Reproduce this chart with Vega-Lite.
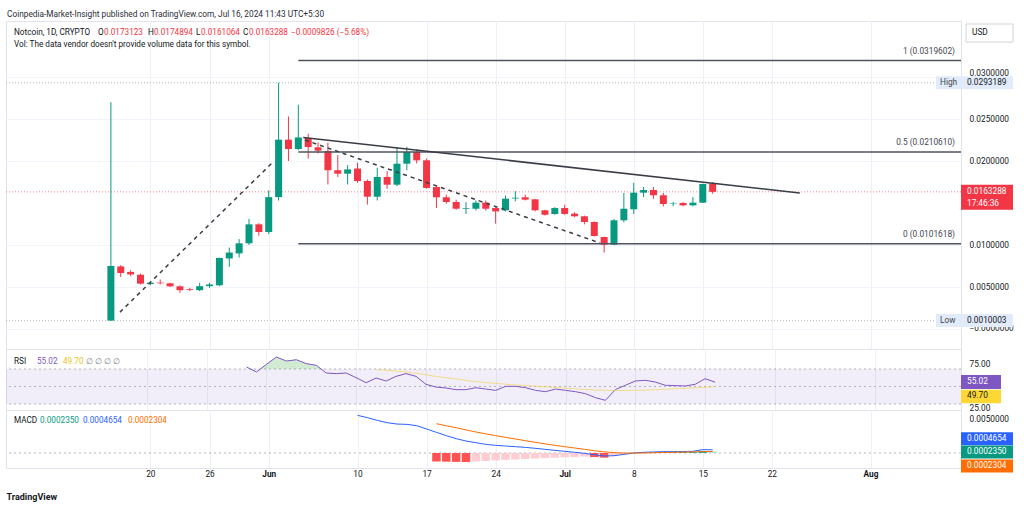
{
"$schema": "https://vega.github.io/schema/vega-lite/v6.json",
"background": "white",
"padding": {"left": 5, "top": 10, "right": 4, "bottom": 4},
"bounds": "flush",
"spacing": 0,
"title": {"text": "Coinpedia-Market-Insight published on TradingView.com, Jul 16, 2024 11:43 UTC+5:30", "anchor": "start", "fontSize": 8.3, "fontWeight": "normal", "color": "#2a2e39", "offset": 2, "dx": 2},
"config": {"font": "Roboto", "view": {"stroke": "#e0e3eb", "strokeWidth": 1}, "axis": {"labelFont": "Roboto", "labelFontSize": 8.3, "labelColor": "#131722", "domain": false, "ticks": false, "gridColor": "#eef0f5"}, "text": {"font": "Roboto"}},
"datasets": {
"candles": [
{"d":"2024-05-16","o":0.0010003,"h":0.0270,"l":0.0010003,"c":0.0075},
{"d":"2024-05-17","o":0.00745,"h":0.0076,"l":0.0062,"c":0.00667},
{"d":"2024-05-18","o":0.0068,"h":0.0070,"l":0.0063,"c":0.0065},
{"d":"2024-05-19","o":0.00646,"h":0.0066,"l":0.0053,"c":0.0054},
{"d":"2024-05-20","o":0.00536,"h":0.0056,"l":0.0052,"c":0.0055},
{"d":"2024-05-21","o":0.00552,"h":0.0059,"l":0.0053,"c":0.00544},
{"d":"2024-05-22","o":0.00544,"h":0.0055,"l":0.0050,"c":0.00508},
{"d":"2024-05-23","o":0.00508,"h":0.0052,"l":0.0043,"c":0.00462},
{"d":"2024-05-24","o":0.00475,"h":0.0049,"l":0.0045,"c":0.00466},
{"d":"2024-05-25","o":0.00462,"h":0.0055,"l":0.0045,"c":0.0051},
{"d":"2024-05-26","o":0.0051,"h":0.0055,"l":0.0049,"c":0.0053},
{"d":"2024-05-27","o":0.0052,"h":0.0085,"l":0.0051,"c":0.00845},
{"d":"2024-05-28","o":0.0084,"h":0.0097,"l":0.0074,"c":0.0091},
{"d":"2024-05-29","o":0.009,"h":0.0107,"l":0.0085,"c":0.0102},
{"d":"2024-05-30","o":0.0102,"h":0.0131,"l":0.0100,"c":0.01246},
{"d":"2024-05-31","o":0.01246,"h":0.0126,"l":0.0111,"c":0.01155},
{"d":"2024-06-01","o":0.01155,"h":0.0165,"l":0.0113,"c":0.0157},
{"d":"2024-06-02","o":0.0157,"h":0.0293189,"l":0.0153,"c":0.02254},
{"d":"2024-06-03","o":0.02254,"h":0.0253,"l":0.0200,"c":0.02143},
{"d":"2024-06-04","o":0.02143,"h":0.0267,"l":0.0213,"c":0.0228},
{"d":"2024-06-05","o":0.02274,"h":0.02325,"l":0.0203,"c":0.02167},
{"d":"2024-06-06","o":0.02163,"h":0.0222,"l":0.0209,"c":0.02123},
{"d":"2024-06-07","o":0.0212,"h":0.0222,"l":0.0172,"c":0.0189},
{"d":"2024-06-08","o":0.0189,"h":0.0207,"l":0.0181,"c":0.01849},
{"d":"2024-06-09","o":0.01849,"h":0.0195,"l":0.0172,"c":0.019},
{"d":"2024-06-10","o":0.0191,"h":0.0198,"l":0.0174,"c":0.01762},
{"d":"2024-06-11","o":0.01762,"h":0.0178,"l":0.0148,"c":0.01575},
{"d":"2024-06-12","o":0.01575,"h":0.0192,"l":0.0153,"c":0.0181},
{"d":"2024-06-13","o":0.0181,"h":0.0188,"l":0.0167,"c":0.01718},
{"d":"2024-06-14","o":0.01718,"h":0.02167,"l":0.017,"c":0.01968},
{"d":"2024-06-15","o":0.01968,"h":0.0217,"l":0.0189,"c":0.02107},
{"d":"2024-06-16","o":0.02107,"h":0.0214,"l":0.0197,"c":0.02008},
{"d":"2024-06-17","o":0.02008,"h":0.0203,"l":0.0167,"c":0.01679},
{"d":"2024-06-18","o":0.0169,"h":0.0171,"l":0.0144,"c":0.01568},
{"d":"2024-06-19","o":0.01568,"h":0.016,"l":0.0149,"c":0.01512},
{"d":"2024-06-20","o":0.01512,"h":0.0154,"l":0.0142,"c":0.01432},
{"d":"2024-06-21","o":0.0143,"h":0.0151,"l":0.0137,"c":0.01438},
{"d":"2024-06-22","o":0.01432,"h":0.0153,"l":0.0141,"c":0.01504},
{"d":"2024-06-23","o":0.01504,"h":0.0153,"l":0.0141,"c":0.01432},
{"d":"2024-06-24","o":0.0144,"h":0.0145,"l":0.01254,"c":0.014},
{"d":"2024-06-25","o":0.01413,"h":0.0159,"l":0.014,"c":0.01551},
{"d":"2024-06-26","o":0.01555,"h":0.0164,"l":0.0152,"c":0.01563},
{"d":"2024-06-27","o":0.01568,"h":0.016,"l":0.0153,"c":0.0154},
{"d":"2024-06-28","o":0.01544,"h":0.0155,"l":0.014,"c":0.01413},
{"d":"2024-06-29","o":0.01413,"h":0.0142,"l":0.0135,"c":0.0136},
{"d":"2024-06-30","o":0.01369,"h":0.0145,"l":0.0136,"c":0.0144},
{"d":"2024-07-01","o":0.0144,"h":0.0148,"l":0.0136,"c":0.0137},
{"d":"2024-07-02","o":0.01373,"h":0.0139,"l":0.0133,"c":0.01342},
{"d":"2024-07-03","o":0.01342,"h":0.0135,"l":0.01246,"c":0.01274},
{"d":"2024-07-04","o":0.01274,"h":0.0128,"l":0.011,"c":0.01107},
{"d":"2024-07-05","o":0.01095,"h":0.011,"l":0.00908,"c":0.01004},
{"d":"2024-07-06","o":0.01004,"h":0.0131,"l":0.01,"c":0.01294},
{"d":"2024-07-07","o":0.01294,"h":0.0162,"l":0.0127,"c":0.01432},
{"d":"2024-07-08","o":0.01425,"h":0.0174,"l":0.0137,"c":0.01623},
{"d":"2024-07-09","o":0.01623,"h":0.0169,"l":0.0157,"c":0.01655},
{"d":"2024-07-10","o":0.01655,"h":0.0169,"l":0.0155,"c":0.01592},
{"d":"2024-07-11","o":0.01592,"h":0.0162,"l":0.0146,"c":0.01488},
{"d":"2024-07-12","o":0.0149,"h":0.0151,"l":0.0146,"c":0.01496},
{"d":"2024-07-13","o":0.015,"h":0.0151,"l":0.0146,"c":0.01472},
{"d":"2024-07-14","o":0.01472,"h":0.0157,"l":0.0146,"c":0.01504},
{"d":"2024-07-15","o":0.01504,"h":0.0173,"l":0.015,"c":0.01726},
{"d":"2024-07-16","o":0.0173123,"h":0.0174894,"l":0.0161064,"c":0.0163288}
],
"levels": [{"k":"High","p":0.0293189},{"k":"Low","p":0.0010003},{"k":"Last","p":0.0163288,"t":"17:46:36"}],
"fib": [{"d":"2024-06-04","p":0.0319602,"label":"1 (0.0319602)"},{"d":"2024-06-04","p":0.021061,"label":"0.5 (0.0210610)"},{"d":"2024-06-04","p":0.0101618,"label":"0 (0.0101618)"}],
"trend": [{"d":"2024-06-04T12:00:00Z","p":0.0228,"d2":"2024-07-24T20:00:00Z","p2":0.01619}],
"dashed": [{"d":"2024-05-16T22:00:00Z","p":0.002,"d2":"2024-06-01T11:00:00Z","p2":0.0199},{"d":"2024-06-04T16:00:00Z","p":0.0225,"d2":"2024-07-04T14:00:00Z","p2":0.01024}],
"rsi": [
{"d":"2024-05-30","v":72.3},{"d":"2024-05-31","v":66.6},{"d":"2024-06-01","v":75.4},{"d":"2024-06-02","v":83.7},{"d":"2024-06-03","v":79.1},{"d":"2024-06-04","v":80.6},{"d":"2024-06-05","v":76.1},{"d":"2024-06-06","v":74.2},{"d":"2024-06-07","v":65.4},{"d":"2024-06-08","v":64.7},{"d":"2024-06-09","v":65.4},{"d":"2024-06-10","v":60.1},{"d":"2024-06-11","v":54.3},{"d":"2024-06-12","v":59.7},{"d":"2024-06-13","v":56.3},{"d":"2024-06-14","v":61.6},{"d":"2024-06-15","v":64.7},{"d":"2024-06-16","v":61.6},{"d":"2024-06-17","v":52.5},{"d":"2024-06-18","v":49.4},{"d":"2024-06-19","v":48.3},{"d":"2024-06-20","v":46.4},{"d":"2024-06-21","v":46.4},{"d":"2024-06-22","v":48.6},{"d":"2024-06-23","v":47.1},{"d":"2024-06-24","v":45.6},{"d":"2024-06-25","v":50.2},{"d":"2024-06-26","v":50.2},{"d":"2024-06-27","v":48.6},{"d":"2024-06-28","v":45.6},{"d":"2024-06-29","v":44.1},{"d":"2024-06-30","v":47.1},{"d":"2024-07-01","v":45.6},{"d":"2024-07-02","v":44.1},{"d":"2024-07-03","v":41.8},{"d":"2024-07-04","v":37.2},{"d":"2024-07-05","v":34.2},{"d":"2024-07-06","v":46.4},{"d":"2024-07-07","v":51.4},{"d":"2024-07-08","v":56.3},{"d":"2024-07-09","v":57.1},{"d":"2024-07-10","v":55.1},{"d":"2024-07-11","v":51.4},{"d":"2024-07-12","v":51.0},{"d":"2024-07-13","v":50.6},{"d":"2024-07-14","v":52.5},{"d":"2024-07-15","v":58.9},{"d":"2024-07-16","v":55.02}
],
"rsima": [
{"d":"2024-06-12","v":69.2},{"d":"2024-06-13","v":68.6},{"d":"2024-06-14","v":67.8},{"d":"2024-06-15","v":66.6},{"d":"2024-06-16","v":65.0},{"d":"2024-06-17","v":63.4},{"d":"2024-06-18","v":61.5},{"d":"2024-06-19","v":60.1},{"d":"2024-06-20","v":58.6},{"d":"2024-06-21","v":57.0},{"d":"2024-06-22","v":55.6},{"d":"2024-06-23","v":54.5},{"d":"2024-06-24","v":53.5},{"d":"2024-06-25","v":52.6},{"d":"2024-06-26","v":51.8},{"d":"2024-06-27","v":51.1},{"d":"2024-06-28","v":50.4},{"d":"2024-06-29","v":49.6},{"d":"2024-06-30","v":48.8},{"d":"2024-07-01","v":48.0},{"d":"2024-07-02","v":47.3},{"d":"2024-07-03","v":46.6},{"d":"2024-07-04","v":46.0},{"d":"2024-07-05","v":45.6},{"d":"2024-07-06","v":45.4},{"d":"2024-07-07","v":45.4},{"d":"2024-07-08","v":45.6},{"d":"2024-07-09","v":45.9},{"d":"2024-07-10","v":46.3},{"d":"2024-07-11","v":46.8},{"d":"2024-07-12","v":47.3},{"d":"2024-07-13","v":47.9},{"d":"2024-07-14","v":48.5},{"d":"2024-07-15","v":49.1},{"d":"2024-07-16","v":49.7}
],
"ob": [{"d":"2024-05-31T09:00:00Z","v":70},{"d":"2024-06-01","v":75.4},{"d":"2024-06-02","v":83.7},{"d":"2024-06-03","v":79.1},{"d":"2024-06-04","v":80.6},{"d":"2024-06-05","v":76.1},{"d":"2024-06-06","v":74.2},{"d":"2024-06-06T11:30:00Z","v":70}],
"rsilast": [{"k":"RSI","v":55.02},{"k":"MA","v":49.70}],
"macd": [
{"d":"2024-06-10","m":0.00554},{"d":"2024-06-11","m":0.0052},{"d":"2024-06-12","m":0.0048},{"d":"2024-06-13","m":0.00446},{"d":"2024-06-14","m":0.00426},{"d":"2024-06-15","m":0.00421},{"d":"2024-06-16","m":0.00402},{"d":"2024-06-17","m":0.00353},{"d":"2024-06-18","m":0.00304},{"d":"2024-06-19","m":0.00255},{"d":"2024-06-20","m":0.00211},{"d":"2024-06-21","m":0.00176},{"d":"2024-06-22","m":0.00152},{"d":"2024-06-23","m":0.00127},{"d":"2024-06-24","m":0.00113},{"d":"2024-06-25","m":0.00103},{"d":"2024-06-26","m":0.00093},{"d":"2024-06-27","m":0.00083},{"d":"2024-06-28","m":0.00069},{"d":"2024-06-29","m":0.00054},{"d":"2024-06-30","m":0.00039},{"d":"2024-07-01","m":0.00025},{"d":"2024-07-02","m":0.0001},{"d":"2024-07-03","m":-0.00005},{"d":"2024-07-04","m":-0.00025},{"d":"2024-07-05","m":-0.00044},{"d":"2024-07-06","m":-0.0004},{"d":"2024-07-07","m":-0.0002},{"d":"2024-07-08","m":0.0},{"d":"2024-07-09","m":0.0001},{"d":"2024-07-10","m":0.00015},{"d":"2024-07-11","m":0.0002},{"d":"2024-07-12","m":0.0002},{"d":"2024-07-13","m":0.00021},{"d":"2024-07-14","m":0.00025},{"d":"2024-07-15","m":0.0005},{"d":"2024-07-16","m":0.0004654}
],
"signal": [
{"d":"2024-06-18","s":0.00431},{"d":"2024-06-19","s":0.004},{"d":"2024-06-20","s":0.00372},{"d":"2024-06-21","s":0.0034},{"d":"2024-06-22","s":0.00309},{"d":"2024-06-23","s":0.00282},{"d":"2024-06-24","s":0.00255},{"d":"2024-06-25","s":0.0023},{"d":"2024-06-26","s":0.00206},{"d":"2024-06-27","s":0.00181},{"d":"2024-06-28","s":0.00157},{"d":"2024-06-29","s":0.00135},{"d":"2024-06-30","s":0.00113},{"d":"2024-07-01","s":0.00093},{"d":"2024-07-02","s":0.00074},{"d":"2024-07-03","s":0.00054},{"d":"2024-07-04","s":0.00034},{"d":"2024-07-05","s":0.00017},{"d":"2024-07-06","s":0.00005},{"d":"2024-07-07","s":0.0},{"d":"2024-07-08","s":-0.00002},{"d":"2024-07-09","s":0.0},{"d":"2024-07-10","s":0.00004},{"d":"2024-07-11","s":0.00008},{"d":"2024-07-12","s":0.00011},{"d":"2024-07-13","s":0.00014},{"d":"2024-07-14","s":0.00017},{"d":"2024-07-15","s":0.0002},{"d":"2024-07-16","s":0.0002304}
],
"hist": [
{"d":"2024-06-18","h":-0.00125,"state":"fallneg"},{"d":"2024-06-19","h":-0.00128,"state":"fallneg"},{"d":"2024-06-20","h":-0.00131,"state":"fallneg"},{"d":"2024-06-21","h":-0.00133,"state":"fallneg"},{"d":"2024-06-22","h":-0.00125,"state":"riseneg"},{"d":"2024-06-23","h":-0.00118,"state":"riseneg"},{"d":"2024-06-24","h":-0.0011,"state":"riseneg"},{"d":"2024-06-25","h":-0.00102,"state":"riseneg"},{"d":"2024-06-26","h":-0.00095,"state":"riseneg"},{"d":"2024-06-27","h":-0.00088,"state":"riseneg"},{"d":"2024-06-28","h":-0.00082,"state":"riseneg"},{"d":"2024-06-29","h":-0.00076,"state":"riseneg"},{"d":"2024-06-30","h":-0.0007,"state":"riseneg"},{"d":"2024-07-01","h":-0.00064,"state":"riseneg"},{"d":"2024-07-02","h":-0.00058,"state":"riseneg"},{"d":"2024-07-03","h":-0.00052,"state":"riseneg"},{"d":"2024-07-04","h":-0.0006,"state":"fallneg"},{"d":"2024-07-05","h":-0.00068,"state":"fallneg"},{"d":"2024-07-06","h":-0.00045,"state":"riseneg"},{"d":"2024-07-07","h":-0.0002,"state":"riseneg"},{"d":"2024-07-08","h":0.00003,"state":"risepos"},{"d":"2024-07-09","h":0.00009,"state":"risepos"},{"d":"2024-07-10","h":0.00011,"state":"risepos"},{"d":"2024-07-11","h":0.00012,"state":"risepos"},{"d":"2024-07-12","h":0.00012,"state":"risepos"},{"d":"2024-07-13","h":0.00012,"state":"risepos"},{"d":"2024-07-14","h":0.00013,"state":"risepos"},{"d":"2024-07-15","h":0.0003,"state":"risepos"},{"d":"2024-07-16","h":0.000235,"state":"fallpos"}
],
"macdlast": [{"k":"MACD","v":0.0004654},{"k":"Hist","v":0.000235},{"k":"Signal","v":0.0002304}]
},
"vconcat": [
{
"width": 955, "height": 328,
"layer": [
{"data": {"name": "levels"}, "transform": [{"filter": "datum.k !== 'Last'"}],
 "mark": {"type": "rule", "stroke": "#9598a1", "strokeDash": [1, 2], "strokeWidth": 1, "opacity": 0.7},
 "encoding": {"y": {"field": "p", "type": "quantitative", "scale": {"domain": [-0.002381, 0.036667], "nice": false, "zero": false},
   "axis": {"orient": "right", "values": [0, 0.005, 0.01, 0.02, 0.025, 0.03], "labelExpr": "datum.value === 0 ? '−0.0000000' : format(datum.value, '.7f')", "labelBaseline": {"condition": {"test": "datum.value > 0.029", "value": "bottom"}, "value": "middle"}, "labelPadding": 8, "grid": true, "gridColor": "#f0f3fa", "title": null}}}},
{"data": {"name": "levels"}, "transform": [{"filter": "datum.k === 'Last'"}],
 "mark": {"type": "rule", "stroke": "#f23645", "strokeDash": [1, 2], "strokeWidth": 1, "opacity": 0.6},
 "encoding": {"y": {"field": "p", "type": "quantitative", "scale": {"domain": [-0.002381, 0.036667], "nice": false, "zero": false}}}},
{"data": {"name": "candles"}, "mark": {"type": "rule", "strokeWidth": 1},
 "encoding": {
  "x": {"field": "d", "type": "temporal", "scale": {"type": "utc", "domain": [1714942800000, 1723219200000], "nice": false},
   "axis": {"values": [{"year":2024,"month":5,"date":20,"utc":true},{"year":2024,"month":5,"date":26,"utc":true},{"year":2024,"month":6,"date":1,"utc":true},{"year":2024,"month":6,"date":10,"utc":true},{"year":2024,"month":6,"date":17,"utc":true},{"year":2024,"month":6,"date":24,"utc":true},{"year":2024,"month":7,"date":1,"utc":true},{"year":2024,"month":7,"date":8,"utc":true},{"year":2024,"month":7,"date":15,"utc":true},{"year":2024,"month":7,"date":22,"utc":true},{"year":2024,"month":8,"date":1,"utc":true}], "labels": false, "grid": true, "title": null}},
  "y": {"field": "l", "type": "quantitative", "scale": {"domain": [-0.002381, 0.036667], "nice": false, "zero": false}},
  "y2": {"field": "h"},
  "color": {"condition": {"test": "datum.c >= datum.o", "value": "#089981"}, "value": "#f23645"}}},
{"data": {"name": "candles"}, "mark": {"type": "bar", "width": 7},
 "encoding": {
  "x": {"field": "d", "type": "temporal", "scale": {"type": "utc", "domain": [1714942800000, 1723219200000], "nice": false}},
  "y": {"field": "o", "type": "quantitative", "scale": {"domain": [-0.002381, 0.036667], "nice": false, "zero": false}},
  "y2": {"field": "c"},
  "color": {"condition": {"test": "datum.c >= datum.o", "value": "#089981"}, "value": "#f23645"}}},
{"data": {"name": "fib"}, "mark": {"type": "rule", "stroke": "#50535e", "strokeWidth": 1.5},
 "encoding": {
  "x": {"field": "d", "type": "temporal", "scale": {"type": "utc", "domain": [1714942800000, 1723219200000], "nice": false}},
  "x2": {"value": "width"},
  "y": {"field": "p", "type": "quantitative", "scale": {"domain": [-0.002381, 0.036667], "nice": false, "zero": false}}}},
{"data": {"name": "trend"}, "mark": {"type": "rule", "stroke": "#3a3d47", "strokeWidth": 1.5},
 "encoding": {
  "x": {"field": "d", "type": "temporal", "scale": {"type": "utc", "domain": [1714942800000, 1723219200000], "nice": false}},
  "x2": {"field": "d2"},
  "y": {"field": "p", "type": "quantitative", "scale": {"domain": [-0.002381, 0.036667], "nice": false, "zero": false}},
  "y2": {"field": "p2"}}},
{"data": {"name": "dashed"}, "mark": {"type": "rule", "stroke": "#3a3d47", "strokeWidth": 1.5, "strokeDash": [4, 4]},
 "encoding": {
  "x": {"field": "d", "type": "temporal", "scale": {"type": "utc", "domain": [1714942800000, 1723219200000], "nice": false}},
  "x2": {"field": "d2"},
  "y": {"field": "p", "type": "quantitative", "scale": {"domain": [-0.002381, 0.036667], "nice": false, "zero": false}},
  "y2": {"field": "p2"}}},
{"data": {"name": "fib"}, "mark": {"type": "text", "align": "right", "baseline": "middle", "dx": -6, "dy": -9, "fontSize": 8.3, "color": "#434651"},
 "encoding": {"x": {"value": "width"}, "y": {"field": "p", "type": "quantitative", "scale": {"domain": [-0.002381, 0.036667], "nice": false, "zero": false}}, "text": {"field": "label"}}},
{"data": {"values": [{"t": "Notcoin, 1D, CRYPTO"}]}, "mark": {"type": "text", "align": "left", "baseline": "middle", "dx": 8, "dy": 12, "fontSize": 8.2, "color": "#131722"}, "encoding": {"x": {"value": 0}, "y": {"value": 0}, "text": {"field": "t"}}},
{"data": {"values": [{"t": "O"}]}, "mark": {"type": "text", "align": "left", "baseline": "middle", "dx": 92, "dy": 12, "fontSize": 8.2, "color": "#131722"}, "encoding": {"x": {"value": 0}, "y": {"value": 0}, "text": {"field": "t"}}},
{"data": {"values": [{"t": "0.0173123"}]}, "mark": {"type": "text", "align": "left", "baseline": "middle", "dx": 98, "dy": 12, "fontSize": 8.2, "color": "#f23645"}, "encoding": {"x": {"value": 0}, "y": {"value": 0}, "text": {"field": "t"}}},
{"data": {"values": [{"t": "H"}]}, "mark": {"type": "text", "align": "left", "baseline": "middle", "dx": 142, "dy": 12, "fontSize": 8.2, "color": "#131722"}, "encoding": {"x": {"value": 0}, "y": {"value": 0}, "text": {"field": "t"}}},
{"data": {"values": [{"t": "0.0174894"}]}, "mark": {"type": "text", "align": "left", "baseline": "middle", "dx": 148, "dy": 12, "fontSize": 8.2, "color": "#f23645"}, "encoding": {"x": {"value": 0}, "y": {"value": 0}, "text": {"field": "t"}}},
{"data": {"values": [{"t": "L"}]}, "mark": {"type": "text", "align": "left", "baseline": "middle", "dx": 190, "dy": 12, "fontSize": 8.2, "color": "#131722"}, "encoding": {"x": {"value": 0}, "y": {"value": 0}, "text": {"field": "t"}}},
{"data": {"values": [{"t": "0.0161064"}]}, "mark": {"type": "text", "align": "left", "baseline": "middle", "dx": 195, "dy": 12, "fontSize": 8.2, "color": "#f23645"}, "encoding": {"x": {"value": 0}, "y": {"value": 0}, "text": {"field": "t"}}},
{"data": {"values": [{"t": "C"}]}, "mark": {"type": "text", "align": "left", "baseline": "middle", "dx": 237, "dy": 12, "fontSize": 8.2, "color": "#131722"}, "encoding": {"x": {"value": 0}, "y": {"value": 0}, "text": {"field": "t"}}},
{"data": {"values": [{"t": "0.0163288"}]}, "mark": {"type": "text", "align": "left", "baseline": "middle", "dx": 243, "dy": 12, "fontSize": 8.2, "color": "#f23645"}, "encoding": {"x": {"value": 0}, "y": {"value": 0}, "text": {"field": "t"}}},
{"data": {"values": [{"t": "−0.0009826 (−5.68%)"}]}, "mark": {"type": "text", "align": "left", "baseline": "middle", "dx": 285, "dy": 12, "fontSize": 8.2, "color": "#f23645"}, "encoding": {"x": {"value": 0}, "y": {"value": 0}, "text": {"field": "t"}}},
{"data": {"values": [{"t": "Vol: The data vendor doesn't provide volume data for this symbol."}]}, "mark": {"type": "text", "align": "left", "baseline": "middle", "dx": 8, "dy": 24, "fontSize": 8.2, "color": "#131722"}, "encoding": {"x": {"value": 0}, "y": {"value": 0}, "text": {"field": "t"}}},
{"data": {"name": "levels"}, "transform": [{"filter": "datum.k !== 'Last'"}],
 "mark": {"type": "point", "shape": "M-0.5,-0.13L1.04,-0.13L1.04,0.13L-0.5,0.13Z", "size": 10000, "filled": true, "fill": "#e2ebf9", "opacity": 1, "strokeWidth": 0},
 "encoding": {"x": {"value": "width"}, "y": {"field": "p", "type": "quantitative", "scale": {"domain": [-0.002381, 0.036667], "nice": false, "zero": false}}}},
{"data": {"name": "levels"}, "transform": [{"filter": "datum.k === 'Last'"}],
 "mark": {"type": "point", "shape": "M0,-0.14L1.04,-0.14L1.04,0.36L0,0.36Z", "size": 10000, "filled": true, "fill": "#f23645", "opacity": 1, "strokeWidth": 0},
 "encoding": {"x": {"value": "width"}, "y": {"field": "p", "type": "quantitative", "scale": {"domain": [-0.002381, 0.036667], "nice": false, "zero": false}}}},
{"data": {"values": [{"t": "USD"}]},
 "mark": {"type": "point", "shape": "M0.1,0.06L1.04,0.06L1.04,0.42L0.1,0.42Z", "size": 10000, "filled": true, "fill": "white", "stroke": "#d1d4dc", "strokeWidth": 1, "opacity": 1},
 "encoding": {"x": {"value": "width"}, "y": {"value": 0}}},
{"data": {"values": [{"t": "USD"}]}, "mark": {"type": "text", "align": "left", "baseline": "middle", "dx": 11, "dy": 12, "fontSize": 8.3, "color": "#131722"}, "encoding": {"x": {"value": "width"}, "y": {"value": 0}, "text": {"field": "t"}}},
{"data": {"name": "levels"}, "transform": [{"filter": "datum.k !== 'Last'"}],
 "mark": {"type": "text", "align": "left", "baseline": "middle", "dx": -21, "fontSize": 8.3, "color": "#434651"},
 "encoding": {"x": {"value": "width"}, "y": {"field": "p", "type": "quantitative", "scale": {"domain": [-0.002381, 0.036667], "nice": false, "zero": false}}, "text": {"field": "k"}}},
{"data": {"name": "levels"}, "transform": [{"filter": "datum.k !== 'Last'"}],
 "mark": {"type": "text", "align": "left", "baseline": "middle", "dx": 6, "fontSize": 8.3, "color": "#131722"},
 "encoding": {"x": {"value": "width"}, "y": {"field": "p", "type": "quantitative", "scale": {"domain": [-0.002381, 0.036667], "nice": false, "zero": false}}, "text": {"field": "p", "format": ".7f"}}},
{"data": {"name": "levels"}, "transform": [{"filter": "datum.k === 'Last'"}],
 "mark": {"type": "text", "align": "left", "baseline": "middle", "dx": 6, "fontSize": 8.3, "color": "white"},
 "encoding": {"x": {"value": "width"}, "y": {"field": "p", "type": "quantitative", "scale": {"domain": [-0.002381, 0.036667], "nice": false, "zero": false}}, "text": {"field": "p", "format": ".7f"}}},
{"data": {"name": "levels"}, "transform": [{"filter": "datum.k === 'Last'"}],
 "mark": {"type": "text", "align": "left", "baseline": "middle", "dx": 6, "dy": 12, "fontSize": 8.3, "color": "white"},
 "encoding": {"x": {"value": "width"}, "y": {"field": "p", "type": "quantitative", "scale": {"domain": [-0.002381, 0.036667], "nice": false, "zero": false}}, "text": {"field": "t"}}}
]
},
{
"width": 955, "height": 61,
"layer": [
{"data": {"values": [{"lo": 30, "hi": 70}]}, "mark": {"type": "rect", "color": "#7e57c2", "opacity": 0.1},
 "encoding": {"x": {"value": 0}, "x2": {"value": "width"},
  "y": {"field": "hi", "type": "quantitative", "scale": {"domain": [23.14, 92.86], "nice": false, "zero": false}, "axis": {"orient": "right", "values": [25, 75], "format": ".2f", "labelPadding": 8, "grid": false, "title": null}},
  "y2": {"field": "lo"}}},
{"data": {"values": [{"v": 70}, {"v": 50}, {"v": 30}]}, "mark": {"type": "rule", "stroke": "#9598a1", "strokeDash": [2, 3], "strokeWidth": 1, "opacity": 0.7},
 "encoding": {"y": {"field": "v", "type": "quantitative", "scale": {"domain": [23.14, 92.86], "nice": false, "zero": false}}}},
{"data": {"name": "ob"}, "mark": {"type": "area", "color": "#4caf50", "opacity": 0.25},
 "encoding": {
  "x": {"field": "d", "type": "temporal", "scale": {"type": "utc", "domain": [1714942800000, 1723219200000], "nice": false}},
  "y": {"field": "v", "type": "quantitative", "scale": {"domain": [23.14, 92.86], "nice": false, "zero": false}},
  "y2": {"datum": 70}}},
{"data": {"name": "rsi"}, "mark": {"type": "line", "color": "#7e57c2", "strokeWidth": 1},
 "encoding": {
  "x": {"field": "d", "type": "temporal", "scale": {"type": "utc", "domain": [1714942800000, 1723219200000], "nice": false},
   "axis": {"values": [{"year":2024,"month":5,"date":20,"utc":true},{"year":2024,"month":5,"date":26,"utc":true},{"year":2024,"month":6,"date":1,"utc":true},{"year":2024,"month":6,"date":10,"utc":true},{"year":2024,"month":6,"date":17,"utc":true},{"year":2024,"month":6,"date":24,"utc":true},{"year":2024,"month":7,"date":1,"utc":true},{"year":2024,"month":7,"date":8,"utc":true},{"year":2024,"month":7,"date":15,"utc":true},{"year":2024,"month":7,"date":22,"utc":true},{"year":2024,"month":8,"date":1,"utc":true}], "labels": false, "grid": true, "title": null}},
  "y": {"field": "v", "type": "quantitative", "scale": {"domain": [23.14, 92.86], "nice": false, "zero": false}}}},
{"data": {"name": "rsima"}, "mark": {"type": "line", "color": "#f4d03f", "strokeWidth": 1, "opacity": 0.6},
 "encoding": {
  "x": {"field": "d", "type": "temporal", "scale": {"type": "utc", "domain": [1714942800000, 1723219200000], "nice": false}},
  "y": {"field": "v", "type": "quantitative", "scale": {"domain": [23.14, 92.86], "nice": false, "zero": false}}}},
{"data": {"values": [{"t": "RSI"}]}, "mark": {"type": "text", "align": "left", "baseline": "middle", "dx": 8, "dy": 12.5, "fontSize": 8.2, "color": "#131722"}, "encoding": {"x": {"value": 0}, "y": {"value": 0}, "text": {"field": "t"}}},
{"data": {"values": [{"t": "55.02"}]}, "mark": {"type": "text", "align": "left", "baseline": "middle", "dx": 31, "dy": 12.5, "fontSize": 8.2, "color": "#7e57c2"}, "encoding": {"x": {"value": 0}, "y": {"value": 0}, "text": {"field": "t"}}},
{"data": {"values": [{"t": "49.70"}]}, "mark": {"type": "text", "align": "left", "baseline": "middle", "dx": 57, "dy": 12.5, "fontSize": 8.2, "color": "#e6c619"}, "encoding": {"x": {"value": 0}, "y": {"value": 0}, "text": {"field": "t"}}},
{"data": {"values": [{"t": "∅ ∅ ∅ ∅"}]}, "mark": {"type": "text", "align": "left", "baseline": "middle", "dx": 80, "dy": 12.5, "fontSize": 8.2, "color": "#787b86"}, "encoding": {"x": {"value": 0}, "y": {"value": 0}, "text": {"field": "t"}}},
{"data": {"name": "rsilast"}, "transform": [{"filter": "datum.k === 'RSI'"}],
 "mark": {"type": "point", "shape": "M0,-0.14L0.8,-0.14L0.8,0.14L0,0.14Z", "size": 10000, "filled": true, "fill": "#7e57c2", "opacity": 1, "strokeWidth": 0},
 "encoding": {"x": {"value": "width"}, "y": {"field": "v", "type": "quantitative", "scale": {"domain": [23.14, 92.86], "nice": false, "zero": false}}}},
{"data": {"name": "rsilast"}, "transform": [{"filter": "datum.k === 'MA'"}],
 "mark": {"type": "point", "shape": "M0,0.06L0.8,0.06L0.8,0.33L0,0.33Z", "size": 10000, "filled": true, "fill": "#fdd835", "opacity": 1, "strokeWidth": 0},
 "encoding": {"x": {"value": "width"}, "y": {"field": "v", "type": "quantitative", "scale": {"domain": [23.14, 92.86], "nice": false, "zero": false}}}},
{"data": {"name": "rsilast"}, "transform": [{"filter": "datum.k === 'RSI'"}],
 "mark": {"type": "text", "align": "left", "baseline": "middle", "dx": 6, "fontSize": 8.3, "color": "white"},
 "encoding": {"x": {"value": "width"}, "y": {"field": "v", "type": "quantitative", "scale": {"domain": [23.14, 92.86], "nice": false, "zero": false}}, "text": {"field": "v", "format": ".2f"}}},
{"data": {"name": "rsilast"}, "transform": [{"filter": "datum.k === 'MA'"}],
 "mark": {"type": "text", "align": "left", "baseline": "middle", "dx": 6, "dy": 9.7, "fontSize": 8.3, "color": "#131722"},
 "encoding": {"x": {"value": "width"}, "y": {"field": "v", "type": "quantitative", "scale": {"domain": [23.14, 92.86], "nice": false, "zero": false}}, "text": {"field": "v", "format": ".2f"}}}
]
},
{
"width": 955, "height": 58,
"layer": [
{"data": {"values": [{"v": 0}]}, "mark": {"type": "rule", "stroke": "#9598a1", "strokeDash": [2, 3], "strokeWidth": 1, "opacity": 0.7},
 "encoding": {"y": {"field": "v", "type": "quantitative", "scale": {"domain": [-0.002206, 0.006324], "nice": false, "zero": false}, "axis": {"orient": "right", "values": [0.005], "format": ".7f", "labelPadding": 8, "grid": false, "title": null}}}},
{"data": {"name": "hist"}, "mark": {"type": "bar", "width": 8.5},
 "encoding": {
  "x": {"field": "d", "type": "temporal", "scale": {"type": "utc", "domain": [1714942800000, 1723219200000], "nice": false},
   "axis": {"values": [{"year":2024,"month":5,"date":20,"utc":true},{"year":2024,"month":5,"date":26,"utc":true},{"year":2024,"month":6,"date":1,"utc":true},{"year":2024,"month":6,"date":10,"utc":true},{"year":2024,"month":6,"date":17,"utc":true},{"year":2024,"month":6,"date":24,"utc":true},{"year":2024,"month":7,"date":1,"utc":true},{"year":2024,"month":7,"date":8,"utc":true},{"year":2024,"month":7,"date":15,"utc":true},{"year":2024,"month":7,"date":22,"utc":true},{"year":2024,"month":8,"date":1,"utc":true}],
    "labelExpr": "utcdate(datum.value) === 1 ? utcFormat(datum.value, '%b') : utcFormat(datum.value, '%-d')",
    "labelFontWeight": {"condition": {"test": "utcdate(datum.value) === 1", "value": "bold"}, "value": "normal"},
    "labelPadding": 1, "labelFlush": false, "grid": true,
    "title": "TradingView", "titleAnchor": "start", "titleAlign": "left", "titleFontSize": 9, "titleFontWeight": "bold", "titleColor": "#131722", "titlePadding": 15}},
  "y": {"field": "h", "type": "quantitative", "scale": {"domain": [-0.002206, 0.006324], "nice": false, "zero": false}},
  "y2": {"datum": 0},
  "color": {"field": "state", "type": "nominal", "scale": {"domain": ["fallneg", "riseneg", "risepos", "fallpos"], "range": ["#ff5252", "#ffcdd2", "#26a69a", "#b2dfdb"]}, "legend": null}}},
{"data": {"name": "macd"}, "mark": {"type": "line", "color": "#2962ff", "strokeWidth": 1},
 "encoding": {
  "x": {"field": "d", "type": "temporal", "scale": {"type": "utc", "domain": [1714942800000, 1723219200000], "nice": false}},
  "y": {"field": "m", "type": "quantitative", "scale": {"domain": [-0.002206, 0.006324], "nice": false, "zero": false}}}},
{"data": {"name": "signal"}, "mark": {"type": "line", "color": "#ff6d00", "strokeWidth": 1},
 "encoding": {
  "x": {"field": "d", "type": "temporal", "scale": {"type": "utc", "domain": [1714942800000, 1723219200000], "nice": false}},
  "y": {"field": "s", "type": "quantitative", "scale": {"domain": [-0.002206, 0.006324], "nice": false, "zero": false}}}},
{"data": {"values": [{"t": "MACD"}]}, "mark": {"type": "text", "align": "left", "baseline": "middle", "dx": 8, "dy": 11, "fontSize": 8.2, "color": "#131722"}, "encoding": {"x": {"value": 0}, "y": {"value": 0}, "text": {"field": "t"}}},
{"data": {"values": [{"t": "0.0002350"}]}, "mark": {"type": "text", "align": "left", "baseline": "middle", "dx": 34, "dy": 11, "fontSize": 8.2, "color": "#089981"}, "encoding": {"x": {"value": 0}, "y": {"value": 0}, "text": {"field": "t"}}},
{"data": {"values": [{"t": "0.0004654"}]}, "mark": {"type": "text", "align": "left", "baseline": "middle", "dx": 77, "dy": 11, "fontSize": 8.2, "color": "#2962ff"}, "encoding": {"x": {"value": 0}, "y": {"value": 0}, "text": {"field": "t"}}},
{"data": {"values": [{"t": "0.0002304"}]}, "mark": {"type": "text", "align": "left", "baseline": "middle", "dx": 122, "dy": 11, "fontSize": 8.2, "color": "#ff6d00"}, "encoding": {"x": {"value": 0}, "y": {"value": 0}, "text": {"field": "t"}}},
{"data": {"name": "macdlast"}, "transform": [{"filter": "datum.k === 'MACD'"}],
 "mark": {"type": "point", "shape": "M0,-0.35L1.04,-0.35L1.04,-0.09L0,-0.09Z", "size": 10000, "filled": true, "fill": "#2962ff", "opacity": 1, "strokeWidth": 0},
 "encoding": {"x": {"value": "width"}, "y": {"field": "v", "type": "quantitative", "scale": {"domain": [-0.002206, 0.006324], "nice": false, "zero": false}}}},
{"data": {"name": "macdlast"}, "transform": [{"filter": "datum.k === 'Hist'"}],
 "mark": {"type": "point", "shape": "M0,-0.12L1.04,-0.12L1.04,0.14L0,0.14Z", "size": 10000, "filled": true, "fill": "#089981", "opacity": 1, "strokeWidth": 0},
 "encoding": {"x": {"value": "width"}, "y": {"field": "v", "type": "quantitative", "scale": {"domain": [-0.002206, 0.006324], "nice": false, "zero": false}}}},
{"data": {"name": "macdlast"}, "transform": [{"filter": "datum.k === 'Signal'"}],
 "mark": {"type": "point", "shape": "M0,0.16L1.04,0.16L1.04,0.42L0,0.42Z", "size": 10000, "filled": true, "fill": "#ff6d00", "opacity": 1, "strokeWidth": 0},
 "encoding": {"x": {"value": "width"}, "y": {"field": "v", "type": "quantitative", "scale": {"domain": [-0.002206, 0.006324], "nice": false, "zero": false}}}},
{"data": {"name": "macdlast"}, "transform": [{"filter": "datum.k === 'MACD'"}],
 "mark": {"type": "text", "align": "left", "baseline": "middle", "dx": 6, "dy": -11, "fontSize": 8.3, "color": "white"},
 "encoding": {"x": {"value": "width"}, "y": {"field": "v", "type": "quantitative", "scale": {"domain": [-0.002206, 0.006324], "nice": false, "zero": false}}, "text": {"field": "v", "format": ".7f"}}},
{"data": {"name": "macdlast"}, "transform": [{"filter": "datum.k === 'Hist'"}],
 "mark": {"type": "text", "align": "left", "baseline": "middle", "dx": 6, "dy": 0.5, "fontSize": 8.3, "color": "white"},
 "encoding": {"x": {"value": "width"}, "y": {"field": "v", "type": "quantitative", "scale": {"domain": [-0.002206, 0.006324], "nice": false, "zero": false}}, "text": {"field": "v", "format": ".7f"}}},
{"data": {"name": "macdlast"}, "transform": [{"filter": "datum.k === 'Signal'"}],
 "mark": {"type": "text", "align": "left", "baseline": "middle", "dx": 6, "dy": 14.5, "fontSize": 8.3, "color": "white"},
 "encoding": {"x": {"value": "width"}, "y": {"field": "v", "type": "quantitative", "scale": {"domain": [-0.002206, 0.006324], "nice": false, "zero": false}}, "text": {"field": "v", "format": ".7f"}}}
]
}
]
}
